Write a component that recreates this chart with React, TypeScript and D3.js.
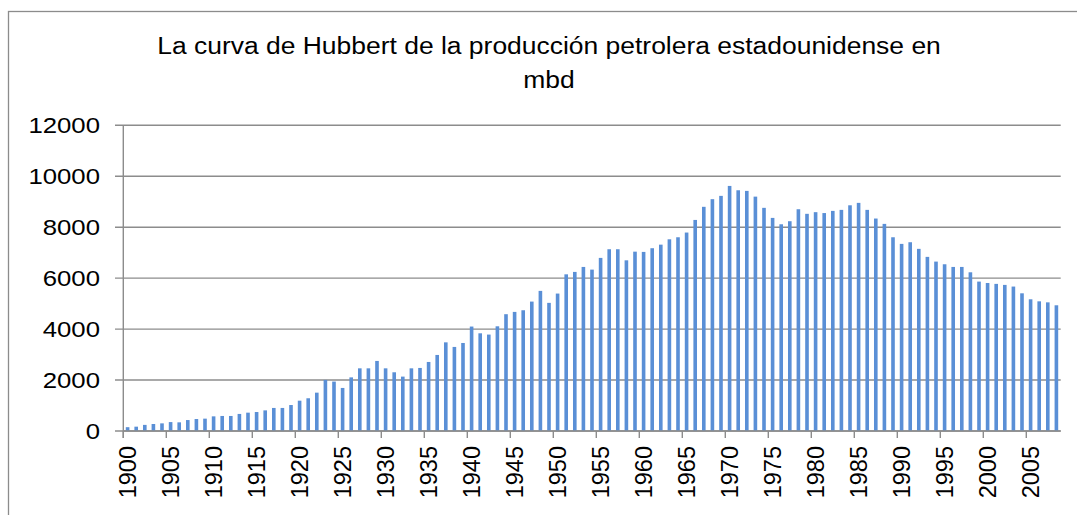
import * as d3 from "d3";
import { ReactElement } from "react";

// years 1900..2008, production in thousand barrels per day
const years: number[] = d3.range(1900, 2009);
const production: number[] = [
    150, 170, 240, 275, 300, 350, 340, 430, 470, 485,
    575, 590, 590, 670, 720, 745, 810, 905, 905, 1020,
    1190, 1285, 1505, 2005, 1940, 1690, 2105, 2460, 2460, 2750,
    2460, 2305, 2135, 2460, 2475, 2710, 2985, 3480, 3300, 3455,
    4100, 3835, 3785, 4110, 4585, 4675, 4740, 5080, 5500, 5030,
    5395, 6150, 6245, 6440, 6335, 6795, 7135, 7135, 6700, 7040,
    7030, 7175, 7315, 7525, 7605, 7790, 8285, 8800, 9100, 9230,
    9620, 9450, 9425, 9200, 8760, 8365, 8115, 8235, 8705, 8525,
    8590, 8555, 8640, 8680, 8860, 8955, 8680, 8340, 8130, 7605,
    7345, 7410, 7150, 6835, 6650, 6545, 6440, 6440, 6230, 5865,
    5810, 5775, 5735, 5670, 5405, 5170, 5090, 5050, 4935,
];
const yTicks: number[] = [0, 2000, 4000, 6000, 8000, 10000, 12000];
const titleLines: string[] = [
    "La curva de Hubbert de la producción petrolera estadounidense en",
    "mbd",
];

const W = 1077;
const H = 515;
const plot = { left: 123.3, right: 1060.7, top: 125.3, bottom: 431 };
const stretch = 1.12; // the source picture is a bit wider than tall

const App = (): ReactElement => {
    const xScale = d3.scaleBand<number>()
        .domain(years)
        .range([plot.left, plot.right])
        .padding(0);
    const yScale = d3.scaleLinear()
        .domain([0, 12000])
        .range([plot.bottom, plot.top]);

    const barW = xScale.bandwidth() * 0.42;
    const gridColor = "#8c8c8c";
    const font = "'Liberation Sans', Arial, sans-serif";

    // tick marks every 5 categories, on category boundaries
    const xTickIdx = d3.range(0, years.length, 5);

    return (
        <svg width={W} height={H} style={{ position: "absolute", left: 0, top: 0, background: "#fff" }}
            fontFamily={font}>
            <rect x={8.5} y={11.5} width={W + 20} height={H + 20} fill="#fff" stroke="#8c8c8c" strokeWidth={1.3} />

            {titleLines.map((t, i) => (
                <text key={t} transform={`translate(549,${54.3 + i * 33.5}) scale(1.08,1)`}
                    textAnchor="middle" fontSize={24.5} fill="#000">{t}</text>
            ))}

            {/* gridlines */}
            {yTicks.map((v) => (
                <g key={v}>
                    <line x1={115} x2={plot.right} y1={yScale(v)} y2={yScale(v)} stroke={gridColor} strokeWidth={1.4} />
                    <text transform={`translate(100,${yScale(v)}) scale(${stretch},1)`} textAnchor="end"
                        dominantBaseline="central" fontSize={23} fill="#000">{v}</text>
                </g>
            ))}

            {/* y axis line */}
            <line x1={plot.left} x2={plot.left} y1={plot.top} y2={plot.bottom + 7} stroke={gridColor} strokeWidth={1.4} />

            {/* bars */}
            {years.map((yr, i) => (
                <rect key={yr}
                    x={xScale(yr)! + (xScale.bandwidth() - barW) / 2}
                    y={yScale(production[i])}
                    width={barW}
                    height={yScale(0) - yScale(production[i])}
                    fill="#5a8fd6" />
            ))}

            {/* x axis */}
            <line x1={plot.left} x2={plot.right} y1={plot.bottom} y2={plot.bottom} stroke={gridColor} strokeWidth={1.4} />
            {xTickIdx.map((i) => (
                <g key={i}>
                    <line x1={xScale(years[i])!} x2={xScale(years[i])!} y1={plot.bottom} y2={plot.bottom + 7}
                        stroke={gridColor} strokeWidth={1.4} />
                    <text transform={`translate(${xScale(years[i])! + xScale.bandwidth() / 2},446) rotate(-90)`}
                        textAnchor="end" dominantBaseline="central" fontSize={23.5} fill="#000">{years[i]}</text>
                </g>
            ))}
        </svg>
    );
};

export default App;
